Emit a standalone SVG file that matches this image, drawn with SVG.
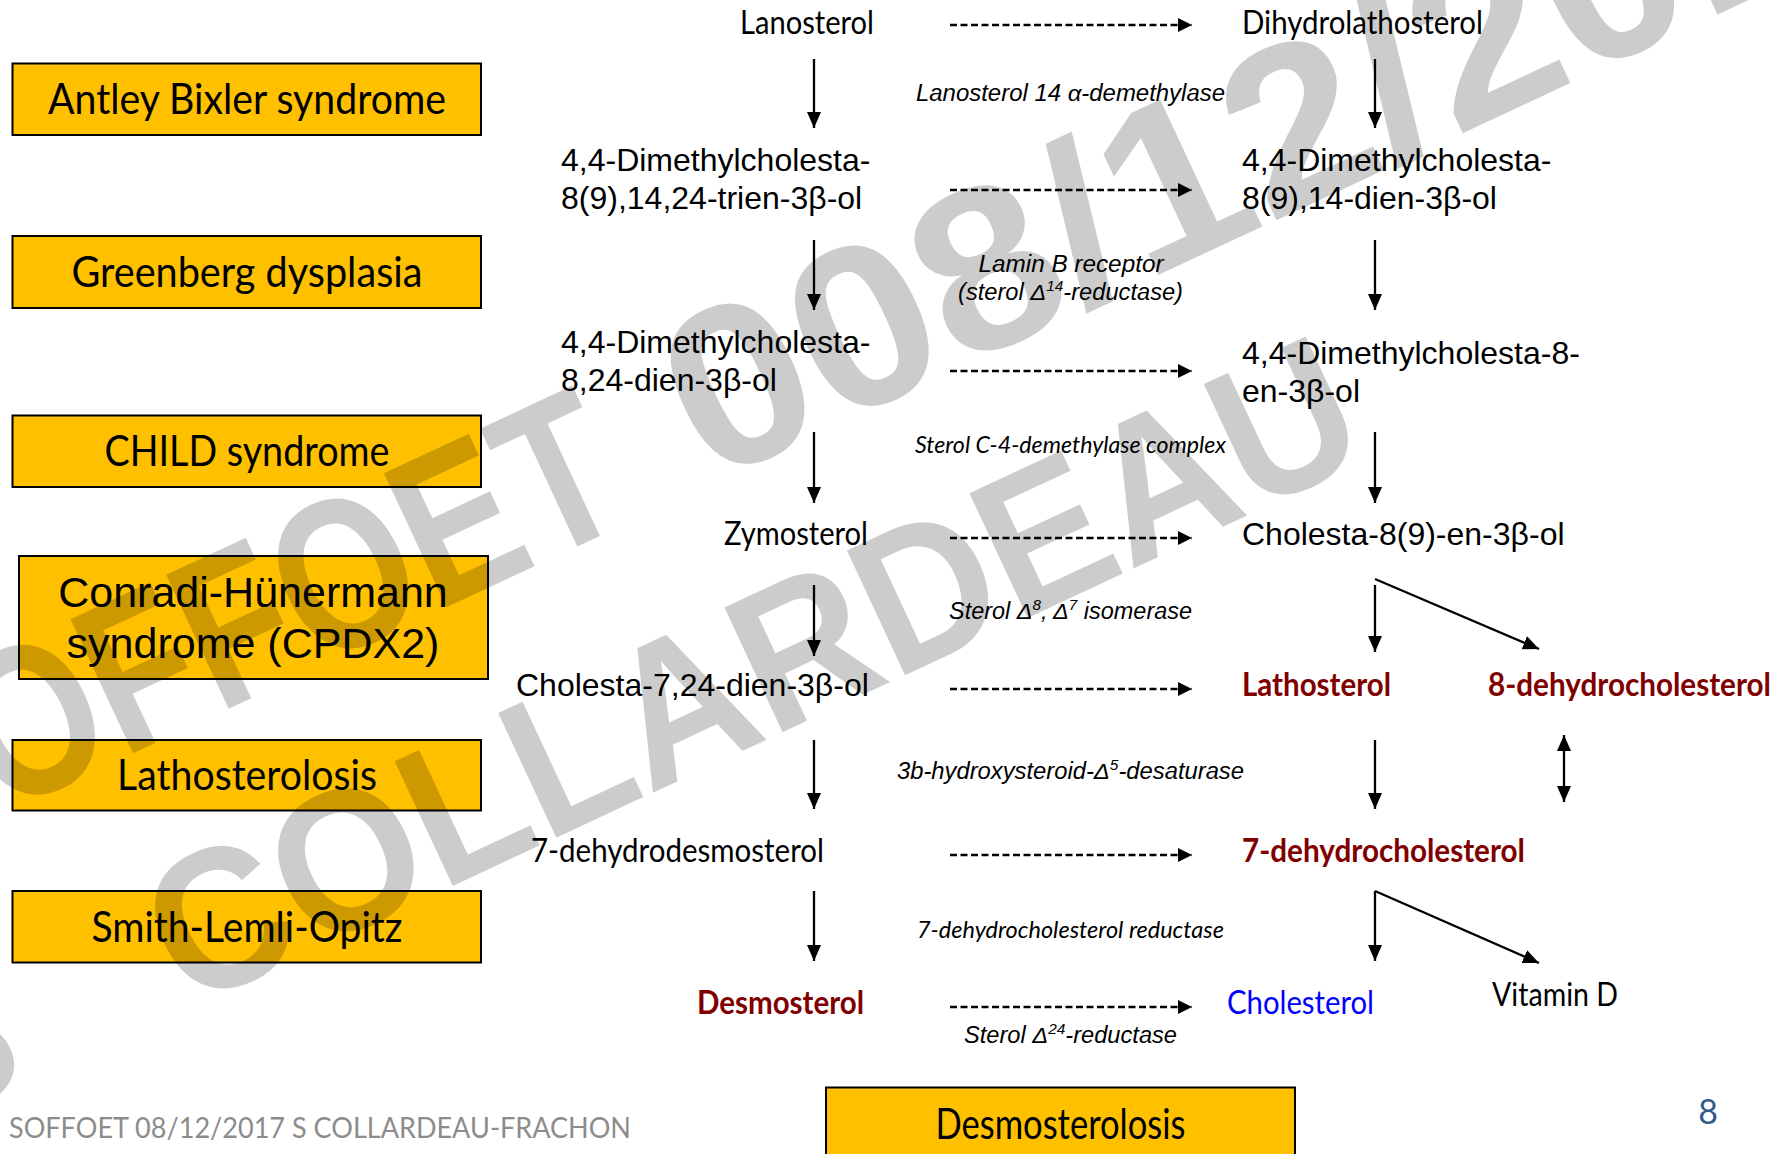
<svg xmlns="http://www.w3.org/2000/svg" width="1780" height="1154" viewBox="0 0 1780 1154">
<defs>
<marker id="ah" markerUnits="userSpaceOnUse" markerWidth="18" markerHeight="16" refX="16" refY="7" orient="auto"><path d="M0,0 L16,7 L0,14 z" fill="#000"/></marker>
<marker id="ah2" markerUnits="userSpaceOnUse" markerWidth="18" markerHeight="16" refX="16" refY="7" orient="auto-start-reverse"><path d="M0,0 L16,7 L0,14 z" fill="#000"/></marker>
<marker id="ahd" markerUnits="userSpaceOnUse" markerWidth="16" markerHeight="16" refX="14" refY="7" orient="auto"><path d="M0,0 L14,7 L0,14 z" fill="#000"/></marker>
</defs>
<style>
.box{fill:#FFC000;stroke:#000;stroke-width:2}
.bt{font-family:Lato,"Open Sans",sans-serif;font-size:42px;fill:#000;text-anchor:middle}
.ar{font-family:"Liberation Sans",Arial,sans-serif;font-size:32px;fill:#000}
.ca{font-family:Lato,"Open Sans",sans-serif;font-size:32px;fill:#000}
.cb{font-family:Lato,"Open Sans",sans-serif;font-size:32px;font-weight:bold;fill:#800000}
.ei{font-family:"Liberation Sans",Arial,sans-serif;font-size:23px;font-style:italic;fill:#000;text-anchor:middle}
.ci{font-family:Lato,"Open Sans",sans-serif;font-size:23px;font-style:italic;fill:#000;text-anchor:middle}
.sol{stroke:#000;stroke-width:2.3;fill:none;marker-end:url(#ah)}
.dsh{stroke:#000;stroke-width:2.5;stroke-dasharray:7 3.5;fill:none;marker-end:url(#ahd)}
.wm{font-family:"Liberation Sans",Arial,sans-serif;font-weight:bold;fill:#000;fill-opacity:0.2}
</style>
<rect width="1780" height="1154" fill="#fff"/>

<g id="box-antley"><rect class="box" x="12.5" y="63.5" width="468.5" height="71.5"/><text class="bt" x="247" y="114" textLength="398" lengthAdjust="spacingAndGlyphs">Antley Bixler syndrome</text></g>
<g id="box-greenberg"><rect class="box" x="12.5" y="236" width="468.5" height="72"/><text class="bt" x="247" y="287" textLength="351" lengthAdjust="spacingAndGlyphs">Greenberg dysplasia</text></g>
<g id="box-child"><rect class="box" x="12.5" y="415.5" width="468.5" height="71.5"/><text class="bt" x="247" y="466" textLength="285" lengthAdjust="spacingAndGlyphs">CHILD syndrome</text></g>
<g id="box-conradi"><rect class="box" x="19" y="556" width="469" height="123"/><text class="ar" x="253" y="607" text-anchor="middle" style="font-size:43px">Conradi-Hünermann</text><text class="ar" x="253" y="658" text-anchor="middle" style="font-size:43px">syndrome (CPDX2)</text></g>
<g id="box-lathosterolosis"><rect class="box" x="12.5" y="740" width="468.5" height="70.5"/><text class="bt" x="247" y="790" textLength="260" lengthAdjust="spacingAndGlyphs">Lathosterolosis</text></g>
<g id="box-slo"><rect class="box" x="12.5" y="891" width="468.5" height="71.5"/><text class="bt" x="247" y="942" textLength="311" lengthAdjust="spacingAndGlyphs">Smith-Lemli-Opitz</text></g>
<g id="box-desmosterolosis"><rect class="box" x="826" y="1087.5" width="469" height="90"/><text class="bt" x="1060.5" y="1139" textLength="250" lengthAdjust="spacingAndGlyphs">Desmosterolosis</text></g>

<g id="n-lanosterol"><text class="ca" x="740" y="34" textLength="134" lengthAdjust="spacingAndGlyphs">Lanosterol</text></g>
<g id="n-dihydrolathosterol"><text class="ca" x="1242" y="34" textLength="241" lengthAdjust="spacingAndGlyphs">Dihydrolathosterol</text></g>
<g id="n-trien"><text class="ar" x="561" y="171">4,4-Dimethylcholesta-</text><text class="ar" x="561" y="209">8(9),14,24-trien-3β-ol</text></g>
<g id="n-dien14"><text class="ar" x="1242" y="171">4,4-Dimethylcholesta-</text><text class="ar" x="1242" y="209">8(9),14-dien-3β-ol</text></g>
<g id="n-dien824"><text class="ar" x="561" y="353">4,4-Dimethylcholesta-</text><text class="ar" x="561" y="391">8,24-dien-3β-ol</text></g>
<g id="n-en8"><text class="ar" x="1242" y="364">4,4-Dimethylcholesta-8-</text><text class="ar" x="1242" y="402">en-3β-ol</text></g>
<g id="n-zymosterol"><text class="ca" x="724" y="545" textLength="144" lengthAdjust="spacingAndGlyphs">Zymosterol</text></g>
<g id="n-cholesta89"><text class="ar" x="1242" y="545">Cholesta-8(9)-en-3β-ol</text></g>
<g id="n-cholesta724"><text class="ar" x="516" y="696">Cholesta-7,24-dien-3β-ol</text></g>
<g id="n-lathosterol"><text class="cb" x="1242" y="696" textLength="149" lengthAdjust="spacingAndGlyphs">Lathosterol</text></g>
<g id="n-8dhc"><text class="cb" x="1488" y="696" textLength="283" lengthAdjust="spacingAndGlyphs">8-dehydrocholesterol</text></g>
<g id="n-7dhd"><text class="ca" x="531" y="862" textLength="293" lengthAdjust="spacingAndGlyphs">7-dehydrodesmosterol</text></g>
<g id="n-7dhc"><text class="cb" x="1242" y="862" textLength="283" lengthAdjust="spacingAndGlyphs">7-dehydrocholesterol</text></g>
<g id="n-desmosterol"><text class="cb" x="697" y="1014" textLength="167" lengthAdjust="spacingAndGlyphs">Desmosterol</text></g>
<g id="n-cholesterol"><text class="ca" x="1227" y="1014" style="fill:#0000FF" textLength="147" lengthAdjust="spacingAndGlyphs">Cholesterol</text></g>
<g id="n-vitd"><text class="ca" x="1492" y="1006" textLength="126" lengthAdjust="spacingAndGlyphs">Vitamin D</text></g>

<g id="enzymes">
<text class="ei" x="1070.5" y="101" textLength="309" lengthAdjust="spacingAndGlyphs">Lanosterol 14 α-demethylase</text>
<text class="ei" x="1071" y="272" textLength="185" lengthAdjust="spacingAndGlyphs">Lamin B receptor</text>
<text class="ei" x="1070.5" y="300" textLength="225" lengthAdjust="spacingAndGlyphs">(sterol Δ<tspan font-size="15" dy="-9">14</tspan><tspan dy="9">-reductase)</tspan></text>
<text class="ci" x="1070.5" y="453" textLength="311" lengthAdjust="spacingAndGlyphs">Sterol C-4-demethylase complex</text>
<text class="ei" x="1070.5" y="619" textLength="243" lengthAdjust="spacingAndGlyphs">Sterol Δ<tspan font-size="15" dy="-9">8</tspan><tspan dy="9">, Δ</tspan><tspan font-size="15" dy="-9">7</tspan><tspan dy="9"> isomerase</tspan></text>
<text class="ei" x="1070.5" y="779" textLength="347" lengthAdjust="spacingAndGlyphs">3b-hydroxysteroid-Δ<tspan font-size="15" dy="-9">5</tspan><tspan dy="9">-desaturase</tspan></text>
<text class="ci" x="1070.5" y="938" textLength="307" lengthAdjust="spacingAndGlyphs">7-dehydrocholesterol reductase</text>
<text class="ei" x="1070.5" y="1043" textLength="213" lengthAdjust="spacingAndGlyphs">Sterol Δ<tspan font-size="15" dy="-9">24</tspan><tspan dy="9">-reductase</tspan></text>
</g>

<g id="connectors">
<line class="sol" x1="814" y1="59" x2="814" y2="128"/>
<line class="sol" x1="814" y1="240" x2="814" y2="310"/>
<line class="sol" x1="814" y1="432" x2="814" y2="503"/>
<line class="sol" x1="814" y1="585" x2="814" y2="656"/>
<line class="sol" x1="814" y1="740" x2="814" y2="809"/>
<line class="sol" x1="814" y1="891" x2="814" y2="961"/>
<line class="sol" x1="1375" y1="59" x2="1375" y2="128"/>
<line class="sol" x1="1375" y1="240" x2="1375" y2="310"/>
<line class="sol" x1="1375" y1="432" x2="1375" y2="503"/>
<line class="sol" x1="1375" y1="585" x2="1375" y2="652"/>
<line class="sol" x1="1375" y1="579" x2="1539" y2="649"/>
<line class="sol" x1="1375" y1="740" x2="1375" y2="809"/>
<line class="sol" x1="1375" y1="891" x2="1375" y2="961"/>
<line class="sol" x1="1375" y1="891" x2="1539" y2="963"/>
<line x1="1564" y1="735" x2="1564" y2="802" stroke="#000" stroke-width="2.3" marker-start="url(#ah2)" marker-end="url(#ah2)"/>
<line class="dsh" x1="950" y1="25" x2="1192" y2="25"/>
<line class="dsh" x1="950" y1="190" x2="1192" y2="190"/>
<line class="dsh" x1="950" y1="371" x2="1192" y2="371"/>
<line class="dsh" x1="950" y1="538" x2="1192" y2="538"/>
<line class="dsh" x1="950" y1="689" x2="1192" y2="689"/>
<line class="dsh" x1="950" y1="855" x2="1192" y2="855"/>
<line class="dsh" x1="950" y1="1007" x2="1192" y2="1007"/>
</g>

<g id="footer">
<text x="9" y="1138" font-family="Lato,'Open Sans',sans-serif" font-size="28" fill="#8C8C8C" textLength="622" lengthAdjust="spacingAndGlyphs">SOFFOET 08/12/2017 S COLLARDEAU-FRACHON</text>
<text x="1708" y="1124" font-family="Lato,'Open Sans',sans-serif" font-size="34" fill="#2E5C8A" text-anchor="middle">8</text>
</g>

<g id="watermark">
<text class="wm" font-size="215" transform="translate(-104,864) rotate(-25)" textLength="817" lengthAdjust="spacingAndGlyphs">SOFFOET</text>
<text class="wm" font-size="230" transform="translate(709.5,484.4) rotate(-25)" textLength="1371" lengthAdjust="spacingAndGlyphs">008/12/2017</text>
<text class="wm" font-size="200" transform="translate(-87,1137) rotate(-25)">S</text>
<text class="wm" font-size="200" transform="translate(187,1010) rotate(-25)" textLength="1310" lengthAdjust="spacingAndGlyphs">COLLARDEAU</text>
</g>
</svg>
